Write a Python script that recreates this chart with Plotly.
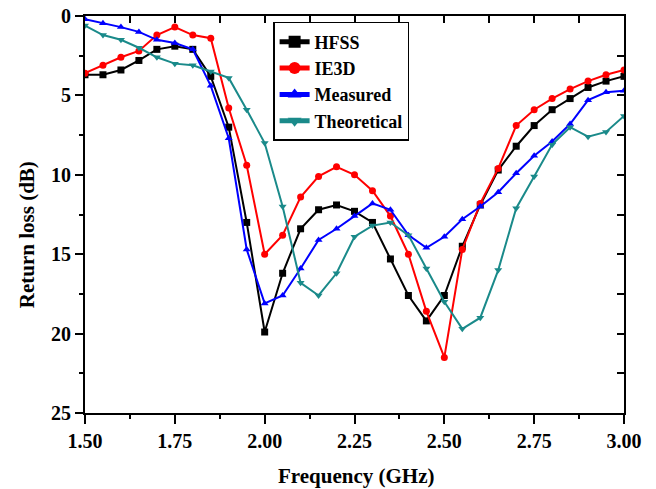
import plotly.graph_objects as go

freq = [1.50, 1.55, 1.60, 1.65, 1.70, 1.75, 1.80, 1.85, 1.90, 1.95, 2.00,
        2.05, 2.10, 2.15, 2.20, 2.25, 2.30, 2.35, 2.40, 2.45, 2.50,
        2.55, 2.60, 2.65, 2.70, 2.75, 2.80, 2.85, 2.90, 2.95, 3.00]

hfss = [3.7, 3.7, 3.4, 2.8, 2.1, 1.9, 2.1, 3.8, 7.0, 13.0, 19.9,
        16.2, 13.4, 12.2, 11.9, 12.3, 13.0, 15.3, 17.6, 19.2, 17.6,
        14.5, 11.9, 9.7, 8.2, 6.9, 5.9, 5.2, 4.5, 4.1, 3.8]

ie3d = [3.6, 3.1, 2.6, 2.2, 1.2, 0.7, 1.2, 1.4, 5.8, 9.4, 15.0,
        13.8, 11.4, 10.1, 9.5, 10.0, 11.0, 12.6, 15.0, 18.6, 21.5,
        14.7, 11.8, 9.6, 6.9, 5.9, 5.2, 4.6, 4.1, 3.7, 3.4]

measured = [0.2, 0.45, 0.7, 1.0, 1.5, 1.7, 2.1, 4.4, 7.7, 14.7, 18.1,
            17.6, 15.9, 14.1, 13.4, 12.6, 11.8, 12.2, 13.8, 14.6, 13.9,
            12.8, 12.0, 11.1, 9.9, 8.8, 7.9, 6.8, 5.3, 4.8, 4.7]

theoretical = [0.6, 1.2, 1.5, 2.0, 2.6, 3.0, 3.1, 3.5, 3.9, 5.9, 8.0,
               12.0, 16.8, 17.6, 16.2, 13.9, 13.2, 13.0, 13.8, 15.9, 18.0,
               19.7, 19.0, 16.0, 12.1, 10.1, 8.1, 7.0, 7.6, 7.3, 6.3]

x_ticks = [1.50, 1.75, 2.00, 2.25, 2.50, 2.75, 3.00]
x_labels = ["1.50", "1.75", "2.00", "2.25", "2.50", "2.75", "3.00"]
y_ticks = [0, 5, 10, 15, 20, 25]

series = [
    ("HFSS", hfss, "#000000", "square"),
    ("IE3D", ie3d, "#ff0000", "circle"),
    ("Measured", measured, "#0000ff", "triangle-up"),
    ("Theoretical", theoretical, "#1a8a8a", "triangle-down"),
]

FONT = "Liberation Serif"

fig = go.Figure()
for name, vals, col, sym in series:
    fig.add_trace(go.Scatter(
        x=freq, y=vals, name=name, mode="lines+markers",
        line=dict(color=col, width=2),
        marker=dict(symbol=sym, size=7, color=col),
    ))

# invisible trace to activate mirrored top/right axes with inside ticks
fig.add_trace(go.Scatter(x=[freq[0]], y=[hfss[0]], xaxis="x2", yaxis="y2",
                         showlegend=False, hoverinfo="skip",
                         marker=dict(opacity=0), mode="markers"))

tick_font = dict(family=FONT, size=20, color="black", weight="bold")

fig.update_layout(
    width=656, height=489,
    margin=dict(l=85, r=32, t=16, b=76, autoexpand=False),
    paper_bgcolor="white", plot_bgcolor="white",
    font=dict(family=FONT, color="black"),
    xaxis=dict(
        range=[1.5, 3.0], tickvals=x_ticks, ticktext=x_labels,
        ticks="outside", ticklen=9, tickwidth=2, tickcolor="black",
        minor=dict(ticks="outside", dtick=0.125, tick0=1.5, ticklen=4,
                   tickwidth=2, tickcolor="black"),
        showline=True, linewidth=2, linecolor="black", showgrid=False,
        zeroline=False, tickfont=tick_font, automargin=False,
    ),
    yaxis=dict(
        range=[25, 0], tickvals=y_ticks,
        ticks="outside", ticklen=8, tickwidth=2, tickcolor="black",
        minor=dict(ticks="outside", dtick=2.5, tick0=0, ticklen=4,
                   tickwidth=2, tickcolor="black"),
        showline=True, linewidth=2, linecolor="black", showgrid=False,
        zeroline=False, tickfont=tick_font, automargin=False,
    ),
    xaxis2=dict(
        overlaying="x", side="top", range=[1.5, 3.0], tickvals=x_ticks,
        showticklabels=False, ticks="inside", ticklen=7, tickwidth=2,
        tickcolor="black",
        minor=dict(ticks="inside", dtick=0.125, tick0=1.5, ticklen=7,
                   tickwidth=2, tickcolor="black"),
        showline=True, linewidth=2, linecolor="black", showgrid=False,
        zeroline=False, automargin=False,
    ),
    yaxis2=dict(
        overlaying="y", side="right", range=[25, 0], tickvals=y_ticks,
        showticklabels=False, ticks="inside", ticklen=7, tickwidth=2,
        tickcolor="black",
        minor=dict(ticks="inside", dtick=2.5, tick0=0, ticklen=7,
                   tickwidth=2, tickcolor="black"),
        showline=True, linewidth=2, linecolor="black", showgrid=False,
        zeroline=False, automargin=False,
    ),
    legend=dict(
        x=0.349, y=0.985, xanchor="left", yanchor="top",
        bgcolor="white", bordercolor="black", borderwidth=1.5,
        font=dict(family=FONT, size=18, color="black", weight="bold"),
        tracegroupgap=0, itemsizing="constant",
    ),
    showlegend=True,
    annotations=[
        dict(text="<b>Frequency (GHz)</b>", xref="paper", yref="paper",
             x=0.503, y=-0.159, xanchor="center", yanchor="middle",
             showarrow=False, font=dict(family=FONT, size=21, color="black")),
        dict(text="<b>Return loss (dB)</b>", xref="paper", yref="paper",
             x=-0.1076, y=0.448, xanchor="center", yanchor="middle",
             textangle=-90, showarrow=False,
             font=dict(family=FONT, size=21, color="black")),
    ],
)

fig.write_html("out.html")
